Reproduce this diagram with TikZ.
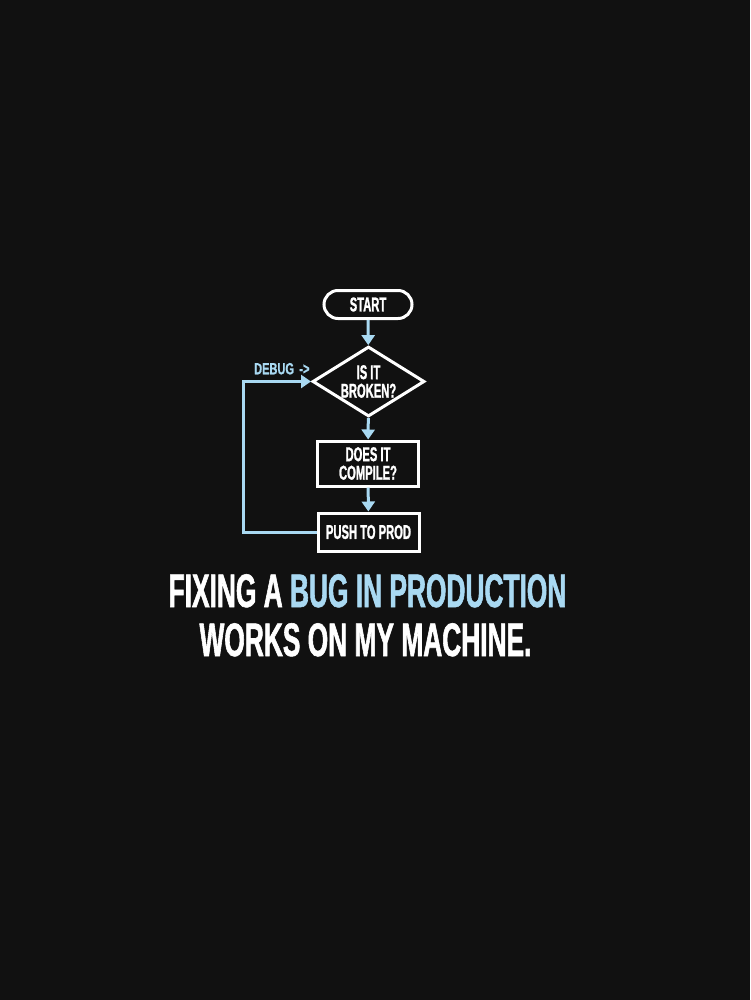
\documentclass[tikz,border=0pt]{standalone}
\usepackage{fontspec}
\usetikzlibrary{shapes.geometric,arrows.meta}
\newfontfamily\condfont[FakeStretch=0.56,FakeBold=1.2]{Liberation Sans Bold}
\newfontfamily\debugfont[FakeStretch=0.68,FakeBold=0.8]{Liberation Sans Bold}
\definecolor{bgcol}{HTML}{111111}
\definecolor{skyblue}{HTML}{A9D9F2}
\tikzset{
  boxline/.style={draw=white, line width=3pt, text=white, inner sep=0pt, align=center,
    font=\condfont\fontsize{20}{18.5}\selectfont},
  termbox/.style={boxline, rounded corners=14pt, minimum width=88pt, minimum height=28pt},
  decbox/.style={boxline, diamond, aspect=1.6, minimum width=112pt, minimum height=70pt},
  procbox/.style={boxline, rectangle, minimum width=101pt},
  flow/.style={draw=skyblue, line width=3pt, -{Triangle[width=13pt,length=10pt]}},
  bigtext/.style={font=\condfont\fontsize{47}{50}\selectfont, anchor=base, inner sep=0pt}
}
\begin{document}
\begin{tikzpicture}[x=1pt,y=-1pt]
\fill[bgcol] (0,0) rectangle (750,1000);
\useasboundingbox (0,0) rectangle (750,1000);
\node[termbox] (start) at (368,304.5) {START};
\node[decbox] (broken) at (368.5,381.5) {IS IT\\BROKEN?};
\node[procbox, minimum height=45pt] (compile) at (368,463.5) {DOES IT\\COMPILE?};
\node[procbox, minimum height=38pt] (push) at (368.5,532) {PUSH TO PROD};
\node[anchor=base west, inner sep=0pt, text=skyblue, font=\debugfont\fontsize{16.2}{18}\selectfont] (debug) at (254,374.3) {DEBUG\,\,->};
\coordinate (loopx) at (243,0);
\draw[flow] (start) -- (broken);
\draw[flow] (broken) -- (compile);
\draw[flow] (compile) -- (push);
\draw[flow] (push.west) -- (push.west -| loopx) |- (broken.west);
\node[bigtext, text=white] (line1) at (367.5,607) {FIXING A \textcolor{skyblue}{BUG IN PRODUCTION}};
\node[bigtext, text=white] (line2) at (365.5,656) {WORKS ON MY MACHINE.};
\end{tikzpicture}
\end{document}
